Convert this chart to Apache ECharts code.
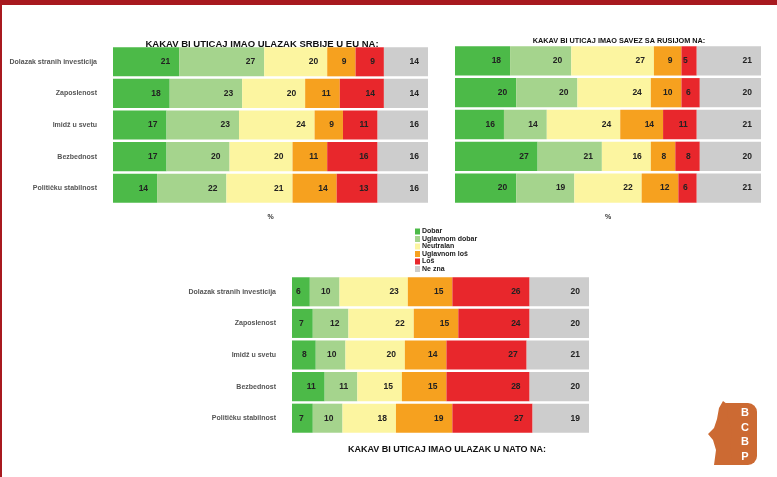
<!DOCTYPE html>
<html><head><meta charset="utf-8">
<script src="https://cdn.jsdelivr.net/npm/echarts@6/dist/echarts.min.js"></script>
<style>html,body{margin:0;padding:0;background:#fff}#c{width:777px;height:477px}</style>
</head><body><div id="c"></div>
<script>
var categories = ['Dolazak stranih investicija','Zaposlenost','Imidž u svetu','Bezbednost','Političku stabilnost'];
var seriesNames = ['Dobar','Uglavnom dobar','Neutralan','Uglavnom loš','Loš','Ne zna'];
var colors = ['#4cba48','#a5d48d','#fcf5a0','#f6a11f','#e8272c','#cdcdcd'];
// each array: values for the 5 categories
var euDobar = [21,18,17,17,14];
var euUglDobar = [27,23,23,20,22];
var euNeutralan = [20,20,24,20,21];
var euUglLos = [9,11,9,11,14];
var euLos = [9,14,11,16,13];
var euNeZna = [14,14,16,16,16];
var ruDobar = [18,20,16,27,20];
var ruUglDobar = [20,20,14,21,19];
var ruNeutralan = [27,24,24,16,22];
var ruUglLos = [9,10,14,8,12];
var ruLos = [5,6,11,8,6];
var ruNeZna = [21,20,21,20,21];
var natoDobar = [6,7,8,11,7];
var natoUglDobar = [10,12,10,11,10];
var natoNeutralan = [23,22,20,15,18];
var natoUglLos = [15,15,14,15,19];
var natoLos = [26,24,27,28,27];
var natoNeZna = [20,20,21,20,19];
var titles = ['KAKAV BI UTICAJ IMAO ULAZAK SRBIJE U EU NA:','KAKAV BI UTICAJ IMAO SAVEZ SA RUSIJOM NA:','KAKAV BI UTICAJ IMAO ULAZAK U NATO NA:'];
var axisUnit = '%';

var groups = [
  [euDobar,euUglDobar,euNeutralan,euUglLos,euLos,euNeZna],
  [ruDobar,ruUglDobar,ruNeutralan,ruUglLos,ruLos,ruNeZna],
  [natoDobar,natoUglDobar,natoNeutralan,natoUglLos,natoLos,natoNeZna]
];
var FONT = '"Liberation Sans", Arial, sans-serif';
var chart = echarts.init(document.getElementById('c'));
var grids = [
  {left:113, top:46, width:315, height:158},
  {left:455, top:45, width:306, height:159},
  {left:292, top:276, width:297, height:158}
];
var xAxes = [], yAxes = [], series = [];
grids.forEach(function(g,i){
  xAxes.push({gridIndex:i, type:'value', min:0, max:100,
    axisLine:{show:false}, axisTick:{show:false}, axisLabel:{show:false}, splitLine:{show:false},
    name: i<2 ? axisUnit : '', nameLocation:'middle', nameGap:10,
    nameTextStyle:{fontSize:7, fontWeight:'bold', color:'#333', fontFamily:FONT}});
  yAxes.push({gridIndex:i, type:'category', data:categories, inverse:true,
    axisLine:{show:false}, axisTick:{show:false},
    axisLabel:{show: i!==1, margin:16, fontSize:7, fontWeight:'bold', color:'#555', fontFamily:FONT}});
  groups[i].forEach(function(arr,k){
    series.push({name:seriesNames[k], type:'bar', stack:'s'+i, xAxisIndex:i, yAxisIndex:i,
      data:arr, barWidth:'92%', itemStyle:{color:colors[k]},
      label:{show:true, position:'insideRight', distance:9, fontSize:8.5, fontWeight:'bold', color:'#222', fontFamily:FONT}});
  });
});
chart.setOption({
  animation:false,
  color:colors,
  title:[
    {text:titles[0], left:257, top:34, textAlign:'center', textStyle:{fontSize:9.5, fontWeight:'bold', color:'#111', fontFamily:FONT}},
    {text:titles[1], left:614, top:32, textAlign:'center', textStyle:{fontSize:7.3, fontWeight:'bold', color:'#111', fontFamily:FONT}},
    {text:titles[2], left:442, top:440, textAlign:'center', textStyle:{fontSize:9, fontWeight:'bold', color:'#111', fontFamily:FONT}}
  ],
  legend:{orient:'vertical', left:410, top:223, itemWidth:5, itemHeight:6, itemGap:0.5,
    icon:'rect', data:seriesNames,
    textStyle:{fontSize:7, lineHeight:7, height:6.5, fontWeight:'bold', color:'#222', fontFamily:FONT, padding:[0,0,0,-3]}},
  grid:grids,
  xAxis:xAxes,
  yAxis:yAxes,
  series:series,
  graphic:[
    {type:'rect', left:0, top:0, shape:{width:777, height:5}, style:{fill:'#a8191f'}},
    {type:'rect', left:0, top:0, shape:{width:2, height:477}, style:{fill:'#a8191f'}},
    {type:'rect', shape:{x:726, y:403, width:31, height:62, r:[0,9,9,0]}, style:{fill:'#cc6a33'}},
    {type:'polygon', shape:{points:[[723,401],[727,404],[728,418],[732,430],[730,447],[733,465],[714,465],[716,450],[713,440],[708,434],[714,428],[717,419],[719,408]]}, style:{fill:'#cc6a33'}},
    {type:'text', style:{x:745, y:406, text:'B\nC\nB\nP', fill:'#fff', font:'bold 11px '+FONT, lineHeight:14.5, textAlign:'center'}}
  ]
});
</script></body></html>
